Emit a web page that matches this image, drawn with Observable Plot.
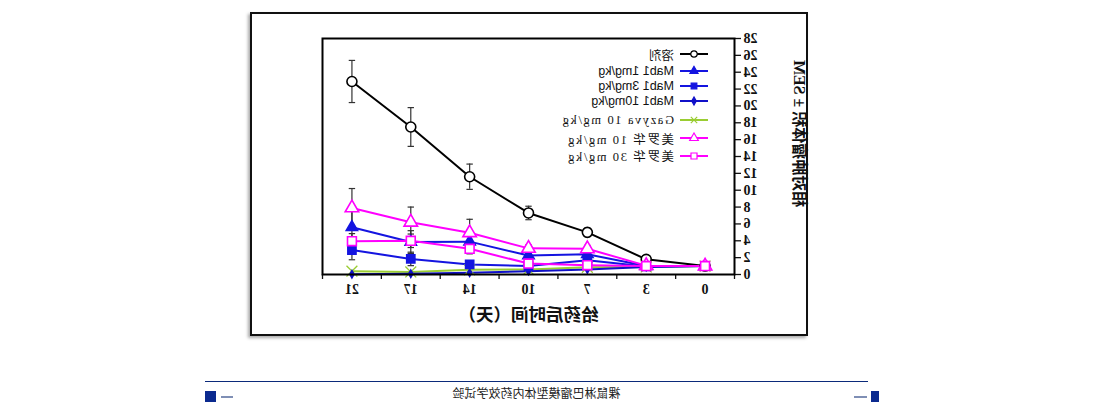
<!DOCTYPE html>
<html><head><meta charset="utf-8">
<script src="https://cdn.jsdelivr.net/npm/d3@7"></script>
<script src="https://cdn.jsdelivr.net/npm/@observablehq/plot@0.6"></script>
<style>
body{margin:0;background:#fff;}
#wrap{position:relative;width:1098px;height:414px;transform:scaleX(-1);overflow:hidden;background:#fff;}
#box{position:absolute;left:290px;top:12px;width:554px;height:320px;border:2px solid #111;box-shadow:2px 2px 3px #aaa;}
#chart{position:absolute;left:0;top:0;}
#chart svg{overflow:visible;}
g[aria-label="x-axis label"] text{font-family:"Noto Sans CJK SC",sans-serif;font-size:17.5px;font-weight:bold;}
#legend{position:absolute;left:390px;top:0;}
.row{position:absolute;left:0;display:flex;align-items:center;height:16px;white-space:nowrap;transform:translateY(-8px);}
.row svg{width:28px;height:12px;margin-right:6px;}
.sans{font-family:"Liberation Sans","Noto Sans CJK SC",sans-serif;font-size:12.5px;color:#111;}
.serif{font-family:"Liberation Serif","Noto Sans CJK SC",serif;font-size:12.5px;letter-spacing:1.6px;color:#111;}
#fline{position:absolute;left:230px;top:381px;width:663px;height:1px;background:#0b2a7a;}
.sq{position:absolute;top:391px;height:11px;background:#0b2a8f;}
.dash{position:absolute;top:396px;height:2px;background:#7f8fb5;}
#ftext{position:absolute;left:230px;width:663px;top:384px;text-align:center;font-family:"Noto Sans CJK SC",sans-serif;font-size:12px;color:#222;}
</style></head>
<body>
<div id="wrap">
  <div id="box"></div>
  <div id="chart"></div>
  <div id="legend"></div>
  <div id="fline"></div>
  <div class="sq" style="left:219px;width:8px;"></div>
  <div class="dash" style="left:231px;width:13px;"></div>
  <div class="sq" style="left:882px;width:11px;"></div>
  <div class="dash" style="left:865px;width:12px;"></div>
  <div id="ftext"></div>
</div>
<script>
// ---- data ----
const days = [0, 3, 7, 10, 14, 17, 21];
const yTicks = [0, 2, 4, 6, 8, 10, 12, 14, 16, 18, 20, 22, 24, 26, 28];
const seriesNames = ["溶剂", "Mab1 1mg/kg", "Mab1 3mg/kg", "Mab1 10mg/kg", "Gazyva 10 mg/kg", "美罗华 10 mg/kg", "美罗华 30 mg/kg"];
const vehicle   = [1.0, 1.8, 5.0, 7.3, 11.6, 17.5, 22.9];
const mab1_1    = [1.0, 1.0, 2.4, 2.25, 3.9, 3.85, 5.6];
const mab1_3    = [1.0, 0.95, 1.7, 1.0, 1.2, 1.85, 2.9];
const mab1_10   = [1.0, 0.9, 0.6, 0.4, 0.2, 0.1, 0.02];
const gazyva10  = [1.0, 0.9, 0.85, 0.6, 0.55, 0.3, 0.4];
const mer10     = [1.0, 1.05, 3.05, 3.1, 4.95, 6.2, 7.9];
const mer30     = [1.0, 1.0, 1.1, 1.3, 3.05, 4.0, 3.95];
const vehicleErr = [0, 0.3, 0.5, 0.8, 1.5, 2.3, 2.5];
const mab1_1Err  = [0, 0.1, 0.4, 0.3, 0.7, 1.35, 2.0];
const mab1_3Err  = [0, 0.1, 0.3, 0.2, 0.4, 0.8, 1.15];
const mer10Err   = [0, 0.2, 0.4, 0.4, 1.6, 1.8, 2.3];
const mer30Err   = [0, 0.1, 0.2, 0.3, 0.6, 0.8, 0.9];
const xTitle = "给药后时间（天）";
const yTitle = "相对肿瘤体积 ± SEM";
const footer = "裸鼠淋巴瘤模型体内药效学试验";

// ---- styles / layout ----
const styles = [
  {color:"#000000", symbol:"circle",   fill:"#fff", r:5,   lr:3.2, cls:"sans"},
  {color:"#1414e0", symbol:"triangle", fill:"#1414e0", r:4.2, lr:3, cls:"sans"},
  {color:"#1414e0", symbol:"square",   fill:"#1414e0", r:4.6, lr:3.2, cls:"sans"},
  {color:"#1010c8", symbol:"diamond",  fill:"#1010c8", r:2.2, lr:2.4, cls:"sans"},
  {color:"#9acd32", symbol:"times",    fill:"none",    r:5,   lr:3, cls:"serif"},
  {color:"#ff00ff", symbol:"triangle", fill:"#fff",    r:5,   lr:3.2, cls:"serif"},
  {color:"#ff00ff", symbol:"square",   fill:"#fff",    r:5,   lr:3.4, cls:"serif"}
];
const legendRowCenters = [54, 70.5, 86, 100.5, 120, 138, 155.5];
const values = [vehicle, mab1_1, mab1_3, mab1_10, gazyva10, mer10, mer30];
const errs = [vehicleErr, mab1_1Err, mab1_3Err, null, null, mer10Err, mer30Err];

const rows = [];
values.forEach((vals, s) => vals.forEach((v, i) => rows.push({s, i, v, e: errs[s] ? errs[s][i] : 0})));
const errRows = rows.filter(d => d.e > 0);

const cap = {draw(ctx, size){ const w = Math.sqrt(size/Math.PI); ctx.moveTo(-w,0); ctx.lineTo(w,0); }};

const marks = [];
marks.push(Plot.ruleX(errRows, {x:"i", y1:d=>d.v-d.e, y2:d=>d.v+d.e, stroke:"#333", strokeWidth:1.2}));
marks.push(Plot.dot(errRows, {x:"i", y:d=>d.v+d.e, symbol:cap, r:3.2, stroke:"#333", strokeWidth:1.2}));
marks.push(Plot.dot(errRows, {x:"i", y:d=>d.v-d.e, symbol:cap, r:3.2, stroke:"#333", strokeWidth:1.2}));
const order = [0, 4, 3, 2, 1, 5, 6];
for (const s of order) {
  const st = styles[s];
  marks.push(Plot.line(rows.filter(d => d.s === s), {x:"i", y:"v", stroke:st.color, strokeWidth:2}));
}
for (const s of order) {
  const st = styles[s];
  marks.push(Plot.dot(rows.filter(d => d.s === s), {x:"i", y:"v", symbol:st.symbol, r:st.r, stroke:st.color, fill:st.fill, strokeWidth:st.symbol==="times"?1.3:1.6}));
}

const chart = Plot.plot({
  width: 1098, height: 414,
  marginLeft: 363, marginRight: 323, marginTop: 38, marginBottom: 140,
  style: {fontFamily: "Liberation Serif, serif", fontSize: "14px", fontWeight: "bold", color: "#111", background: "transparent"},
  x: {type: "linear", domain: [-0.5, days.length - 0.5]},
  y: {domain: [0, 28]},
  marks: [
    Plot.axisY({ticks: yTicks, tickSize: 6, tickPadding: 3, label: null, strokeWidth: 1.3}),
    Plot.text([yTitle], {frameAnchor: "left", textAnchor: "middle", rotate: -90, dx: -65, dy: -23, fontSize: 16, fontWeight: "bold", fontFamily: "Liberation Serif, Noto Sans CJK SC, serif", fill: "#111"}),
    Plot.axisX({ticks: d3.range(days.length + 1).map(i => i - 0.5), tickSize: 5, tickFormat: () => "", label: null, strokeWidth: 1.3}),
    Plot.axisX({ticks: d3.range(days.length), tickSize: 0, tickPadding: 10, tickFormat: i => String(days[i]), label: xTitle, labelAnchor: "center", labelArrow: "none", labelOffset: 46}),
    ...marks,
    Plot.frame({stroke: "#000", strokeWidth: 2})
  ]
});
document.getElementById("chart").appendChild(chart);

// ---- legend ----
const leg = document.getElementById("legend");
const symPath = (st) => {
  const t = {circle:d3.symbolCircle, triangle:d3.symbolTriangle, square:d3.symbolSquare, diamond:d3.symbolDiamond, times:d3.symbolTimes}[st.symbol];
  return d3.symbol(t, st.lr*st.lr*Math.PI)();
};
seriesNames.forEach((name, s) => {
  const st = styles[s];
  const row = document.createElement("div");
  row.className = "row";
  row.style.top = legendRowCenters[s] + "px";
  row.innerHTML = `<svg viewBox="0 0 28 12"><line x1="0" x2="28" y1="6" y2="6" stroke="${st.color}" stroke-width="2"/><path transform="translate(14,6)" d="${symPath(st)}" fill="${st.fill}" stroke="${st.color}" stroke-width="1.2"/></svg><span class="${st.cls}">${name}</span>`;
  leg.appendChild(row);
});
document.getElementById("ftext").textContent = footer;
</script>
</body></html>
